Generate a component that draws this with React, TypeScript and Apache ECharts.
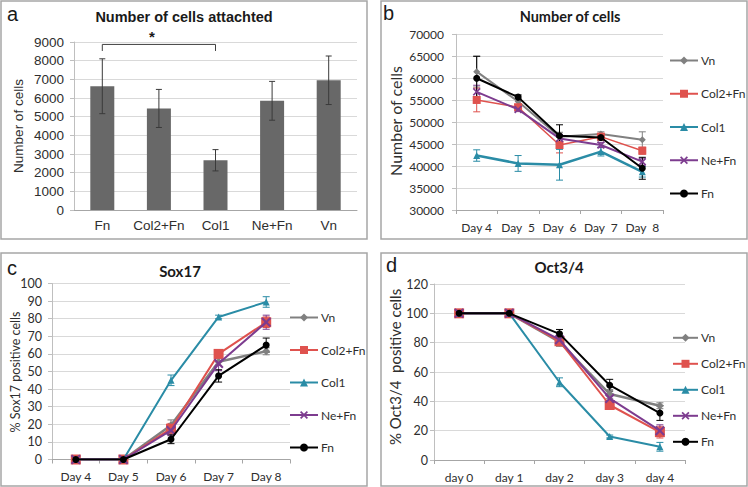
import React, { useEffect, useRef } from "react";
import * as echarts from "echarts";

// ---------- Data ----------
const barCategories = ["Fn", "Col2+Fn", "Col1", "Ne+Fn", "Vn"];
const attachedCells = [6630, 5440, 2665, 5850, 6950];
const attachedErr = [1470, 1020, 570, 1040, 1300];
const attachedTicks = { min: 0, max: 9000, interval: 1000 };

const seriesNames = ["Vn", "Col2+Fn", "Col1", "Ne+Fn", "Fn"];

// b: Number of cells
const bDays = ["Day 4", "Day  5", "Day  6", "Day  7", "Day  8"];
const bVn = [61500, 54700, 46700, 47300, 46000];
const bVnErr = [3500, 700, 1000, 500, 1800];
const bCol2Fn = [55050, 53400, 44800, 46700, 43500];
const bCol2FnErr = [2700, 600, 1800, 500, 800];
const bCol1 = [42400, 40600, 40300, 43300, 38700];
const bCol1Err = [1300, 1800, 3500, 1000, 1200];
const bNeFn = [56900, 52900, 46300, 44800, 41000];
const bNeFnErr = [1500, 500, 900, 600, 800];
const bFn = [60000, 55700, 46900, 46500, 39500];
const bFnErr = [5000, 500, 2500, 600, 2500];

// c: Sox17
const cDays = ["Day 4", "Day 5", "Day 6", "Day 7", "Day 8"];
const cVn = [0, 0, 19.5, 55.5, 61.5];
const cVnErr = [0, 0, 3, 2, 2];
const cCol2Fn = [0, 0, 17.5, 60, 78];
const cCol2FnErr = [0, 0, 3, 2, 3];
const cCol1 = [0, 0, 45, 81, 89.5];
const cCol1Err = [0, 0, 3, 1, 3];
const cNeFn = [0, 0, 16.5, 54.5, 78];
const cNeFnErr = [0, 0, 3, 4, 4];
const cFn = [0, 0, 11.5, 47.5, 65];
const cFnErr = [0, 0, 2.5, 3.5, 4];

// d: Oct3/4
const dDays = ["day 0", "day 1", "day 2", "day 3", "day 4"];
const dVn = [100, 100, 80.5, 45, 37];
const dVnErr = [0, 0, 3, 3, 2];
const dCol2Fn = [100, 100, 81, 37.5, 19];
const dCol2FnErr = [0, 0, 3, 3, 4];
const dCol1 = [100, 100, 53, 16, 9];
const dCol1Err = [0, 0, 3, 1, 3];
const dNeFn = [100, 100, 82, 42, 20];
const dNeFnErr = [0, 0, 3, 3, 4];
const dFn = [100, 100, 86, 51, 32];
const dFnErr = [0, 0, 3, 4, 5];

// ---------- Styles ----------
const FONT_A = "'Liberation Sans', Arial, sans-serif";
const FONT_B = "Lato, 'Noto Sans', sans-serif";
const TXT = "#2e2e2e";
const GRID_LINE = "#d9d9d9";
const AXIS_LINE = "#a6a6a6";
const COLORS = ["#808080", "#df524e", "#2a8ca6", "#7d3c8f", "#000000"];
const X_PATH =
  "path://M0,1.5 L1.5,0 L5,3.5 L8.5,0 L10,1.5 L6.5,5 L10,8.5 L8.5,10 L5,6.5 L1.5,10 L0,8.5 L3.5,5 Z";
const SYMBOLS = ["diamond", "rect", "triangle", X_PATH, "circle"];

function errRender(color: string, cap: number) {
  return (params: any, api: any) => {
    const x = api.value(0);
    const lo = api.coord([x, api.value(1)]);
    const hi = api.coord([x, api.value(2)]);
    const style = { stroke: color, lineWidth: 1 };
    return {
      type: "group",
      children: [
        { type: "line", shape: { x1: lo[0], y1: lo[1], x2: hi[0], y2: hi[1] }, style },
        { type: "line", shape: { x1: lo[0] - cap, y1: lo[1], x2: lo[0] + cap, y2: lo[1] }, style },
        { type: "line", shape: { x1: hi[0] - cap, y1: hi[1], x2: hi[0] + cap, y2: hi[1] }, style },
      ],
    };
  };
}

function errData(values: number[], errs: number[]) {
  const out: number[][] = [];
  values.forEach((v, j) => {
    if (errs[j] > 0) out.push([j, v - errs[j], v + errs[j]]);
  });
  return out;
}

function linePanel(
  idx: number,
  values: number[][],
  errs: number[][],
  sizes: number[],
  widths: number[]
) {
  const out: any[] = [];
  values.forEach((vals, k) => {
    out.push({
      type: "custom",
      name: seriesNames[k] + " error",
      xAxisIndex: idx,
      yAxisIndex: idx,
      data: errData(vals, errs[k]),
      renderItem: errRender(COLORS[k], 3.5),
      z: 2,
      silent: true,
    });
  });
  values.forEach((vals, k) => {
    out.push({
      type: "line",
      name: seriesNames[k],
      xAxisIndex: idx,
      yAxisIndex: idx,
      data: vals,
      symbol: SYMBOLS[k],
      symbolSize: sizes[k],
      showSymbol: true,
      lineStyle: { color: COLORS[k], width: widths[k] },
      itemStyle: { color: COLORS[k] },
      z: 3 + k,
    });
  });
  return out;
}

function valueAxis(idx: number, min: number, max: number, interval: number, font: string, size: number, margin: number) {
  return {
    type: "value",
    gridIndex: idx,
    min,
    max,
    interval,
    axisLine: { show: true, lineStyle: { color: "#bfbfbf", width: 1 } },
    axisTick: { show: true, length: 4, lineStyle: { color: "#bfbfbf" } },
    axisLabel: {
      color: TXT,
      fontFamily: font,
      fontSize: size,
      margin,
      formatter: (v: number) => String(v),
    },
    splitLine: { show: true, lineStyle: { color: GRID_LINE, width: 1 } },
  };
}

function catAxis(idx: number, data: string[], font: string, size: number, margin: number, ticks: boolean) {
  return {
    type: "category",
    gridIndex: idx,
    data,
    boundaryGap: true,
    axisLine: { show: true, lineStyle: { color: AXIS_LINE, width: 1 } },
    axisTick: { show: ticks, length: 4, lineStyle: { color: AXIS_LINE } },
    axisLabel: { color: TXT, fontFamily: font, fontSize: size, margin, interval: 0 },
    splitLine: { show: false },
  };
}

function txt(x: number, y: number, text: string, font: string, opts: any = {}) {
  return {
    type: "text",
    x,
    y,
    rotation: opts.rotation || 0,
    style: {
      text,
      x: 0,
      y: 0,
      font,
      fill: opts.fill || "#1a1a1a",
      textAlign: opts.align || "center",
      textVerticalAlign: "middle",
    },
    z: 10,
  };
}

function frame(x: number, y: number, w: number, h: number) {
  return {
    type: "rect",
    shape: { x, y, width: w, height: h },
    style: { fill: "none", stroke: "#a6a6a6", lineWidth: 1.5 },
    z: 0,
    silent: true,
  };
}

function legend(left: number, top: number, gap: number, itemWidth: number, size: number) {
  return {
    orient: "vertical",
    left,
    top,
    itemGap: gap,
    itemWidth,
    itemHeight: 10,
    selectedMode: false,
    data: seriesNames,
    textStyle: { color: TXT, fontFamily: FONT_B, fontSize: size, padding: [0, 0, 0, -2] },
    padding: 0,
  };
}

export default function App() {
  const ref = useRef<HTMLDivElement>(null);

  useEffect(() => {
    if (!ref.current) return;
    const chart = echarts.init(ref.current, undefined, { renderer: "svg" });

    const option: any = {
      animation: false,
      backgroundColor: "#ffffff",
      grid: [
        { left: 74, top: 42, width: 283, height: 168 },
        { left: 456, top: 34.3, width: 207, height: 175.7 },
        { left: 52, top: 283.5, width: 238, height: 176 },
        { left: 434, top: 284, width: 251, height: 176 },
      ],
      xAxis: [
        catAxis(0, barCategories, FONT_A, 13.5, 8, false),
        catAxis(1, bDays, FONT_B, 12, 11, true),
        catAxis(2, cDays, FONT_B, 12, 11, true),
        catAxis(3, dDays, FONT_B, 12, 11, true),
      ],
      yAxis: [
        valueAxis(0, attachedTicks.min, attachedTicks.max, attachedTicks.interval, FONT_A, 13.5, 10),
        valueAxis(1, 30000, 70000, 5000, FONT_B, 12, 12),
        valueAxis(2, 0, 100, 10, FONT_B, 12.5, 10),
        valueAxis(3, 0, 120, 20, FONT_B, 12.5, 6),
      ],
      legend: [
        legend(669, 54.5, 21.25, 28, 12),
        legend(289, 311.5, 20.5, 28, 12),
        legend(672, 331.8, 14, 25, 12),
      ],
      series: [
        {
          type: "bar",
          name: "attached",
          xAxisIndex: 0,
          yAxisIndex: 0,
          data: attachedCells,
          barWidth: 24,
          itemStyle: { color: "#686868" },
          z: 2,
        },
        {
          type: "custom",
          name: "attached error",
          xAxisIndex: 0,
          yAxisIndex: 0,
          data: errData(attachedCells, attachedErr),
          renderItem: errRender("#3a3a3a", 3),
          z: 3,
          silent: true,
        },
        {
          type: "custom",
          name: "significance",
          xAxisIndex: 0,
          yAxisIndex: 0,
          data: [[0, 2, 8870, 8520]],
          renderItem: (params: any, api: any) => {
            const a = api.coord([api.value(0), api.value(2)]);
            const b = api.coord([api.value(1), api.value(2)]);
            const a2 = api.coord([api.value(0), api.value(3)]);
            const b2 = api.coord([api.value(1), api.value(3)]);
            return {
              type: "group",
              children: [
                {
                  type: "polyline",
                  shape: { points: [a2, a, b, b2] },
                  style: { stroke: "#404040", lineWidth: 1, fill: "none" },
                },
                {
                  type: "text",
                  style: {
                    text: "*",
                    x: (a[0] + b[0]) / 2 - 7,
                    y: a[1] - 8,
                    font: `bold 15px ${FONT_A}`,
                    fill: "#1a1a1a",
                    textAlign: "center",
                    textVerticalAlign: "middle",
                  },
                },
              ],
            };
          },
          z: 4,
          silent: true,
        },
        ...linePanel(
          1,
          [bVn, bCol2Fn, bCol1, bNeFn, bFn],
          [bVnErr, bCol2FnErr, bCol1Err, bNeFnErr, bFnErr],
          [7, 8, 7, 8, 7],
          [2, 1.5, 2.5, 2, 2]
        ),
        ...linePanel(
          2,
          [cVn, cCol2Fn, cCol1, cNeFn, cFn],
          [cVnErr, cCol2FnErr, cCol1Err, cNeFnErr, cFnErr],
          [8, 10, 7, 10, 7],
          [2.5, 2, 2, 2, 2]
        ),
        ...linePanel(
          3,
          [dVn, dCol2Fn, dCol1, dNeFn, dFn],
          [dVnErr, dCol2FnErr, dCol1Err, dNeFnErr, dFnErr],
          [8, 10, 7, 10, 7],
          [2.5, 2, 2, 2, 2]
        ),
      ],
      graphic: [
        frame(1, 1, 366, 238),
        frame(381, 1, 366, 238),
        frame(1, 253, 366, 233),
        frame(381, 253, 366, 233),
        txt(7, 14, "a", `20px ${FONT_A}`, { align: "left" }),
        txt(383, 13, "b", `20px ${FONT_A}`, { align: "left" }),
        txt(7, 268, "c", `20px ${FONT_A}`, { align: "left" }),
        txt(386, 265, "d", `20px ${FONT_A}`, { align: "left" }),
        txt(184, 17, "Number of cells attachted", `bold 14.5px ${FONT_A}`),
        txt(570, 16, "Number of cells", `bold 14.5px ${FONT_B}`),
        txt(180, 271, "Sox17", `bold 15px ${FONT_B}`),
        txt(559, 267, "Oct3/4", `bold 15px ${FONT_B}`),
        txt(18, 126, "Number of cells", `13.5px ${FONT_A}`, { rotation: Math.PI / 2, fill: TXT }),
        txt(395, 121, "Number of cells", `16px ${FONT_B}`, { rotation: Math.PI / 2, fill: TXT }),
        txt(15, 372, "% Sox17 positive cells", `12.5px ${FONT_B}`, { rotation: Math.PI / 2, fill: TXT }),
        txt(395, 367, "% Oct3/4  positive cells", `15px ${FONT_B}`, { rotation: Math.PI / 2, fill: TXT }),
      ],
    };

    chart.setOption(option);
    return () => chart.dispose();
  }, []);

  return (
    <div
      ref={ref}
      style={{ position: "absolute", left: 0, top: 0, width: 748, height: 487, background: "#fff" }}
    />
  );
}
